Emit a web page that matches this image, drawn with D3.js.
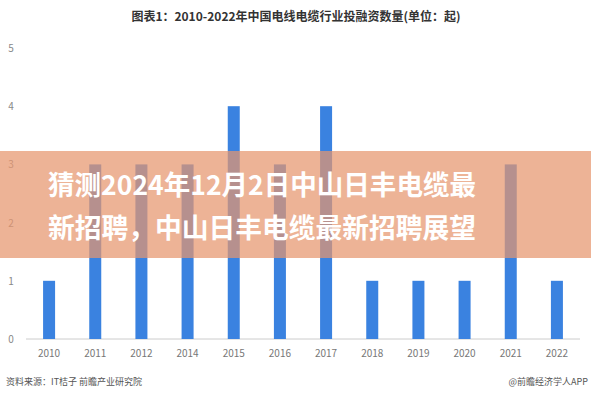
<!DOCTYPE html>
<html><head><meta charset="utf-8">
<script src="https://cdn.jsdelivr.net/npm/d3@7"></script>
<style>body{margin:0;background:#fff}svg{display:block;font-family:"Noto Sans CJK SC","Noto Sans",sans-serif}</style>
</head><body>
<svg id="chart" width="591" height="400"></svg>
<script>
var years = ["2010","2011","2012","2014","2015","2016","2017","2018","2019","2020","2021","2022"]
var counts = [1,3,3,3,4,3,4,1,1,1,3,1]
var yTicks = [0,1,2,3,4,5]

var svg = d3.select("#chart")
var x = d3.scaleBand().domain(years).range([26, 580]).paddingInner(0.74).paddingOuter(0.37)
var y = d3.scaleLinear().domain([0, 5]).range([339, 48])

svg.append("text").attr("x", 296).attr("y", 21).attr("text-anchor", "middle")
  .attr("font-size", 12).attr("font-weight", "bold").attr("fill", "#333")
  .text("图表1：2010-2022年中国电线电缆行业投融资数量(单位：起)")

svg.append("g").selectAll("text").data(yTicks).enter().append("text")
  .attr("x", 11).attr("y", function(d) { return y(d) + 4 }).attr("text-anchor", "middle")
  .attr("font-size", 10).attr("fill", "#888").text(function(d) { return d })

svg.append("line").attr("x1", 26).attr("x2", 580).attr("y1", y(0)).attr("y2", y(0))
  .attr("stroke", "#ccc")

svg.append("g").selectAll("rect").data(counts).enter().append("rect")
  .attr("x", function(d, i) { return x(years[i]) })
  .attr("width", x.bandwidth())
  .attr("y", function(d) { return y(d) })
  .attr("height", function(d) { return y(0) - y(d) })
  .attr("fill", "#3a82e0")

svg.append("g").selectAll("text").data(years).enter().append("text")
  .attr("x", function(d) { return x(d) + x.bandwidth() / 2 }).attr("y", 357)
  .attr("text-anchor", "middle").attr("font-size", 10).attr("fill", "#777").text(function(d) { return d })

svg.append("text").attr("x", 6).attr("y", 385).attr("font-size", 9).attr("fill", "#555")
  .text("资料来源：IT桔子 前瞻产业研究院")
svg.append("text").attr("x", 588).attr("y", 385).attr("text-anchor", "end").attr("font-size", 9).attr("fill", "#555")
  .text("@前瞻经济学人APP")

// bandeau titre
svg.append("rect").attr("x", 0).attr("y", 151).attr("width", 591).attr("height", 107)
  .attr("fill", "rgb(230,150,110)").attr("opacity", 0.72)
var lines = ["猜测2024年12月2日中山日丰电缆最", "新招聘，中山日丰电缆最新招聘展望"]
svg.append("g").selectAll("text").data(lines).enter().append("text")
  .attr("x", 48).attr("y", function(d, i) { return 195 + i * 43 })
  .attr("textLength", 428).attr("lengthAdjust", "spacingAndGlyphs")
  .attr("font-size", 27).attr("font-weight", "bold").attr("fill", "#fff").text(function(d) { return d })
</script>
</body></html>
